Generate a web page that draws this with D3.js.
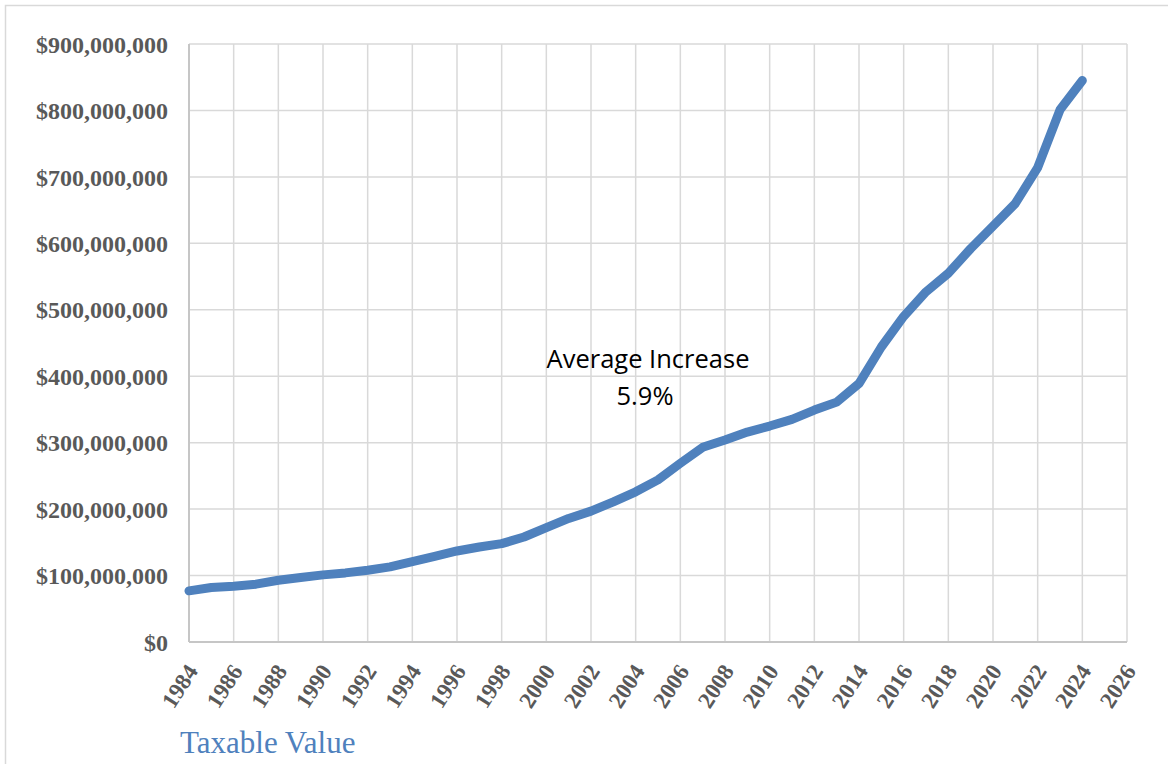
<!DOCTYPE html>
<html>
<head>
<meta charset="utf-8">
<script src="https://cdn.jsdelivr.net/npm/d3@7"></script>
<style>
  html, body { margin: 0; padding: 0; background: #fff; }
  svg { display: block; }
</style>
</head>
<body>
<svg id="chart" width="1168" height="764"></svg>
<script>
const years = [1984,1985,1986,1987,1988,1989,1990,1991,1992,1993,1994,1995,1996,1997,1998,1999,2000,2001,2002,2003,2004,2005,2006,2007,2008,2009,2010,2011,2012,2013,2014,2015,2016,2017,2018,2019,2020,2021,2022,2023,2024];
const taxableValue = [77e6,82e6,84e6,87e6,93e6,97e6,101e6,104e6,108e6,113e6,121e6,129e6,137e6,143e6,148e6,158e6,172e6,186e6,197e6,211e6,226e6,244e6,269e6,293e6,304e6,316e6,325e6,335e6,349e6,361e6,389e6,444e6,490e6,527e6,555e6,592e6,626e6,660e6,714e6,801e6,845e6];
const xTickYears = [1984,1986,1988,1990,1992,1994,1996,1998,2000,2002,2004,2006,2008,2010,2012,2014,2016,2018,2020,2022,2024,2026];
const yTickValues = [0,100e6,200e6,300e6,400e6,500e6,600e6,700e6,800e6,900e6];
const seriesName = "Taxable Value";
const annotationLines = ["Average Increase", "5.9%"];

const svg = d3.select("#chart");
const plot = {left: 189, right: 1127, top: 44, bottom: 642};

// outer chart border
svg.append("rect")
  .attr("x", 5.5).attr("y", 5.5)
  .attr("width", 1200).attr("height", 800)
  .attr("fill", "#fff").attr("stroke", "#d9d9d9").attr("stroke-width", 1.5);

const x = d3.scaleLinear().domain([1984, 2026]).range([plot.left, plot.right]);
const y = d3.scaleLinear().domain([0, 900e6]).range([plot.bottom, plot.top]);

// gridlines
svg.append("g").selectAll("line").data(yTickValues.filter(v => v > 0)).join("line")
  .attr("x1", plot.left).attr("x2", plot.right)
  .attr("y1", d => y(d)).attr("y2", d => y(d))
  .attr("stroke", "#d9d9d9").attr("stroke-width", 1.5);
svg.append("g").selectAll("line").data(xTickYears.filter(v => v > 1984)).join("line")
  .attr("x1", d => x(d)).attr("x2", d => x(d))
  .attr("y1", plot.top).attr("y2", plot.bottom)
  .attr("stroke", "#d9d9d9").attr("stroke-width", 1.5);

// axis lines
svg.append("line").attr("x1", plot.left).attr("x2", plot.left)
  .attr("y1", plot.top).attr("y2", plot.bottom)
  .attr("stroke", "#c6c6c6").attr("stroke-width", 2);
svg.append("line").attr("x1", plot.left).attr("x2", plot.right)
  .attr("y1", plot.bottom).attr("y2", plot.bottom)
  .attr("stroke", "#c6c6c6").attr("stroke-width", 2);

// y axis labels
const fmt = d3.format("$,.0f");
const yAxis = d3.axisLeft(y).tickValues(yTickValues).tickSize(0).tickPadding(0).tickFormat(d => fmt(d));
const gy = svg.append("g").attr("transform", `translate(168,0)`).call(yAxis);
gy.select(".domain").remove();
gy.selectAll("text")
  .attr("font-family", "'Liberation Serif', 'Times New Roman', serif")
  .attr("font-weight", "bold").attr("font-size", 24).attr("fill", "#595959")
  .attr("dy", "0.34em");

// x axis labels
const xAxis = d3.axisBottom(x).tickValues(xTickYears).tickSize(0).tickFormat(d3.format("d"));
const gx = svg.append("g").attr("transform", `translate(0,${plot.bottom})`).call(xAxis);
gx.select(".domain").remove();
gx.selectAll("text")
  .attr("font-family", "'Liberation Serif', 'Times New Roman', serif")
  .attr("font-weight", "bold").attr("font-size", 23).attr("fill", "#595959")
  .attr("text-anchor", "middle")
  .attr("y", 0).attr("dy", "0.35em")
  .attr("transform", "translate(-10,44) rotate(-57)");

// line
const line = d3.line().x((d, i) => x(years[i])).y(d => y(d));
svg.append("path").datum(taxableValue)
  .attr("d", line)
  .attr("fill", "none").attr("stroke", "#4f81bd").attr("stroke-width", 9)
  .attr("stroke-linejoin", "round").attr("stroke-linecap", "round");

// annotation
svg.append("text").attr("x", 648).attr("y", 368).attr("text-anchor", "middle")
  .attr("font-family", "'Open Sans', 'Noto Sans', sans-serif").attr("font-size", 25.5).attr("fill", "#000")
  .text(annotationLines[0]);
svg.append("text").attr("x", 645).attr("y", 405).attr("text-anchor", "middle")
  .attr("font-family", "'Open Sans', 'Noto Sans', sans-serif").attr("font-size", 25.5).attr("fill", "#000")
  .text(annotationLines[1]);

// legend label
svg.append("text").attr("x", 180).attr("y", 753)
  .attr("font-family", "'Liberation Serif', 'Times New Roman', serif").attr("font-size", 31).attr("fill", "#4f81bd")
  .text(seriesName);
</script>
</body>
</html>
